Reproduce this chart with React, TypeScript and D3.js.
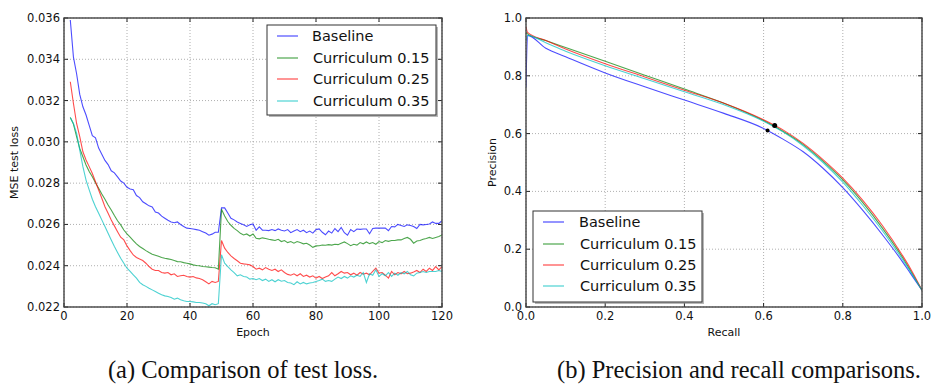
import React from "react";
import * as d3 from "d3";

// ---------- Data: left chart (MSE test loss per epoch) ----------
const epochs: number[] = d3.range(2, 121);

const baselineLoss: number[] = [
  0.0359, 0.0341, 0.0333, 0.0323, 0.0317, 0.0313, 0.0308, 0.0303, 0.0302, 0.0297,
  0.0294, 0.0291, 0.0289, 0.0286, 0.0285, 0.0283, 0.0281, 0.0280, 0.0278, 0.02772,
  0.02768, 0.0274, 0.0273, 0.0271, 0.0270, 0.0269, 0.02685, 0.0266, 0.02655, 0.0264,
  0.0263, 0.0262, 0.02612, 0.02608, 0.02612, 0.0260, 0.0259, 0.02582, 0.0258, 0.02578,
  0.02575, 0.02572, 0.02565, 0.02558, 0.02548, 0.02553, 0.02562, 0.02562, 0.0268, 0.0268,
  0.02655, 0.0263, 0.02622, 0.02612, 0.02605, 0.02598, 0.0259, 0.02598, 0.02602, 0.02572,
  0.02588, 0.02572, 0.02572, 0.0257, 0.02575, 0.0257, 0.02578, 0.02572, 0.02568, 0.02575,
  0.0256, 0.02568, 0.02575, 0.02565, 0.02572, 0.0256, 0.02568, 0.02558, 0.02575, 0.02578,
  0.02562, 0.0255, 0.02568, 0.02558, 0.0258, 0.02565, 0.02585, 0.0256, 0.02548, 0.02575,
  0.02565, 0.02578, 0.02576, 0.02578, 0.02578, 0.02555, 0.0258, 0.02582, 0.02582, 0.02583,
  0.02582, 0.0257, 0.0259, 0.02588, 0.026, 0.02595, 0.0259, 0.02598, 0.02595, 0.0259,
  0.0258, 0.026, 0.02598, 0.026, 0.02602, 0.02612, 0.02605, 0.02605, 0.02618,
];

const cur15Loss: number[] = [
  0.03118, 0.03086, 0.03025, 0.02968, 0.02928, 0.02888, 0.02856, 0.02831, 0.02802, 0.02775,
  0.02747, 0.02722, 0.02694, 0.0267, 0.02643, 0.02618, 0.02598, 0.02573, 0.02554, 0.02538,
  0.02522, 0.02506, 0.02493, 0.02483, 0.02473, 0.02464, 0.02456, 0.02451, 0.02446, 0.0244,
  0.02436, 0.02433, 0.0243, 0.02425, 0.0242, 0.02419, 0.02415, 0.02412, 0.02409, 0.02404,
  0.02401, 0.024, 0.02396, 0.02395, 0.02393, 0.02391, 0.0239, 0.02383, 0.02673, 0.02641,
  0.02614, 0.02596, 0.02581, 0.0257, 0.02557, 0.02549, 0.02554, 0.02544, 0.02554, 0.02533,
  0.0253, 0.02535, 0.02532, 0.02528, 0.02525, 0.02522, 0.02528, 0.02517, 0.02522, 0.02512,
  0.02517, 0.02509, 0.02517, 0.02512, 0.02506, 0.02509, 0.025, 0.02489, 0.02496, 0.02497,
  0.025, 0.02499, 0.02502, 0.025, 0.02504, 0.02502, 0.02509, 0.02515, 0.02507, 0.02497,
  0.02504, 0.025, 0.02512, 0.02506, 0.02515, 0.02507, 0.02512, 0.02504, 0.02517, 0.02512,
  0.02522, 0.02518, 0.02522, 0.02522, 0.02525, 0.02525, 0.02532, 0.02537, 0.02528, 0.02509,
  0.0252, 0.02522, 0.02528, 0.02532, 0.02537, 0.02532, 0.02537, 0.02541, 0.02549,
];

const cur25Loss: number[] = [
  0.03291, 0.03186, 0.03089, 0.03025, 0.02952, 0.02912, 0.0288, 0.02847, 0.02807, 0.02767,
  0.02727, 0.02686, 0.02654, 0.02622, 0.02593, 0.02565, 0.02538, 0.02525, 0.02496, 0.02473,
  0.02452, 0.0244, 0.02432, 0.02425, 0.02412, 0.02396, 0.02383, 0.02377, 0.02377, 0.02367,
  0.02364, 0.02367, 0.02356, 0.02361, 0.02348, 0.02351, 0.02354, 0.02348, 0.02345, 0.02348,
  0.02341, 0.02338, 0.02332, 0.02322, 0.02312, 0.02324, 0.02319, 0.02324, 0.02522, 0.02485,
  0.02464, 0.02448, 0.02435, 0.02424, 0.02412, 0.02409, 0.02407, 0.02404, 0.02396, 0.02383,
  0.02388, 0.0238, 0.02391, 0.02383, 0.02377, 0.02383, 0.02372, 0.0238, 0.02367, 0.02358,
  0.02354, 0.02361, 0.02351, 0.02361, 0.02348, 0.02354, 0.02345, 0.02351, 0.0234, 0.02348,
  0.02338, 0.02345, 0.02351, 0.02367, 0.02351, 0.02361, 0.02372, 0.02364, 0.02367, 0.02356,
  0.02364, 0.02354, 0.02367, 0.02359, 0.02364, 0.02356, 0.02372, 0.02388, 0.02364, 0.02367,
  0.02354, 0.0234, 0.02372, 0.02356, 0.02367, 0.02361, 0.02372, 0.02361, 0.02364, 0.0237,
  0.02377, 0.02367, 0.02383, 0.02372, 0.02388, 0.02377, 0.02396, 0.0238, 0.02396,
];

const cur35Loss: number[] = [
  0.03118, 0.03089, 0.03041, 0.0296, 0.0288, 0.02815, 0.02767, 0.02722, 0.02686, 0.02654,
  0.02622, 0.0259, 0.02557, 0.02525, 0.02493, 0.02464, 0.02436, 0.02412, 0.02388, 0.02372,
  0.02356, 0.0234, 0.02319, 0.02308, 0.023, 0.02291, 0.02283, 0.02275, 0.02267, 0.02259,
  0.02254, 0.02251, 0.02246, 0.02238, 0.02243, 0.02235, 0.0223, 0.02227, 0.02227, 0.02225,
  0.02222, 0.02222, 0.02219, 0.02216, 0.02206, 0.02216, 0.02211, 0.02216, 0.02453, 0.02412,
  0.02396, 0.0238, 0.02367, 0.02351, 0.02356, 0.02348, 0.02345, 0.02335, 0.02338, 0.02332,
  0.02338, 0.02328, 0.02335, 0.02324, 0.02332, 0.02322, 0.02332, 0.02325, 0.02328, 0.02319,
  0.02316, 0.02308, 0.02322, 0.02312, 0.02319, 0.02312, 0.02316, 0.02319, 0.02324, 0.02328,
  0.02335, 0.02324, 0.02328, 0.02324, 0.02335, 0.02345, 0.02338, 0.02348, 0.0234, 0.02351,
  0.02345, 0.02354, 0.02348, 0.02367, 0.02319, 0.02361, 0.02354, 0.0238, 0.02348, 0.02361,
  0.02351, 0.02367, 0.02348, 0.02364, 0.02354, 0.02367, 0.02361, 0.02372, 0.02356, 0.02351,
  0.02364, 0.02367, 0.02372, 0.02367, 0.02372, 0.02372, 0.02372, 0.02377, 0.02372,
];

const lossXTicks: number[] = [0, 20, 40, 60, 80, 100, 120];
const lossYTicks: number[] = [0.022, 0.024, 0.026, 0.028, 0.03, 0.032, 0.034, 0.036];

// ---------- Data: right chart (precision-recall) ----------
const prBaseline: [number, number][] = [
  [0.0, 0.76], [0.004, 0.94], [0.05, 0.895], [0.1, 0.866], [0.2, 0.81], [0.3, 0.762],
  [0.4, 0.716], [0.5, 0.67], [0.6, 0.618], [0.65, 0.58], [0.7, 0.537], [0.75, 0.48],
  [0.8, 0.413], [0.85, 0.335], [0.9, 0.25], [0.95, 0.158], [0.97, 0.118], [1.0, 0.058],
];
const prCur15: [number, number][] = [
  [0.0, 0.95], [0.004, 0.945], [0.05, 0.922], [0.1, 0.898], [0.2, 0.85], [0.3, 0.802],
  [0.4, 0.754], [0.5, 0.705], [0.6, 0.645], [0.65, 0.607], [0.7, 0.562], [0.75, 0.505],
  [0.8, 0.44], [0.85, 0.362], [0.9, 0.273], [0.95, 0.173], [0.97, 0.128], [1.0, 0.058],
];
const prCur25: [number, number][] = [
  [0.0, 0.97], [0.004, 0.95], [0.05, 0.922], [0.1, 0.893], [0.2, 0.842], [0.3, 0.796],
  [0.4, 0.75], [0.5, 0.705], [0.6, 0.648], [0.65, 0.612], [0.7, 0.566], [0.75, 0.51],
  [0.8, 0.446], [0.85, 0.37], [0.9, 0.282], [0.95, 0.18], [0.97, 0.135], [1.0, 0.058],
];
const prCur35: [number, number][] = [
  [0.0, 0.92], [0.004, 0.94], [0.05, 0.914], [0.1, 0.885], [0.2, 0.835], [0.3, 0.79],
  [0.4, 0.745], [0.5, 0.7], [0.6, 0.643], [0.65, 0.605], [0.7, 0.558], [0.75, 0.5],
  [0.8, 0.432], [0.85, 0.352], [0.9, 0.264], [0.95, 0.166], [0.97, 0.124], [1.0, 0.058],
];
const prDots: [number, number][] = [[0.61, 0.611], [0.628, 0.628]];

const prTicks: number[] = [0, 0.2, 0.4, 0.6, 0.8, 1.0];

const seriesNames: string[] = ["Baseline", "Curriculum 0.15", "Curriculum 0.25", "Curriculum 0.35"];
const seriesColors: string[] = ["#0000ff", "#008000", "#ff0000", "#00bfbf"];

const captions: string[] = ["(a) Comparison of test loss.", "(b) Precision and recall comparisons."];

const FONT = "'DejaVu Sans', sans-serif";
const SERIF = "'Liberation Serif', 'Times New Roman', serif";

type Box = { left: number; right: number; top: number; bottom: number };

function Frame({ box, xs, ys, xTicks, yTicks, xFmt, yFmt, xLabel, yLabel, yLabelX }: any) {
  const tickLen = 4;
  return (
    <g>
      {xTicks.map((t: number, i: number) => (
        <line key={"gx" + i} x1={xs(t)} x2={xs(t)} y1={box.top} y2={box.bottom}
          stroke="#9a9a9a" strokeWidth={0.8} strokeDasharray="1,2" />
      ))}
      {yTicks.map((t: number, i: number) => (
        <line key={"gy" + i} x1={box.left} x2={box.right} y1={ys(t)} y2={ys(t)}
          stroke="#9a9a9a" strokeWidth={0.8} strokeDasharray="1,2" />
      ))}
      {xTicks.map((t: number, i: number) => (
        <g key={"tx" + i}>
          <line x1={xs(t)} x2={xs(t)} y1={box.bottom} y2={box.bottom - tickLen} stroke="#222" strokeWidth={1} />
          <line x1={xs(t)} x2={xs(t)} y1={box.top} y2={box.top + tickLen} stroke="#222" strokeWidth={1} />
          <text x={xs(t)} y={box.bottom + 13} textAnchor="middle" fontFamily={FONT} fontSize={11.5} fill="#111">
            {xFmt(t)}
          </text>
        </g>
      ))}
      {yTicks.map((t: number, i: number) => (
        <g key={"ty" + i}>
          <line x1={box.left} x2={box.left + tickLen} y1={ys(t)} y2={ys(t)} stroke="#222" strokeWidth={1} />
          <line x1={box.right} x2={box.right - tickLen} y1={ys(t)} y2={ys(t)} stroke="#222" strokeWidth={1} />
          <text x={box.left - 4} y={ys(t) + 4} textAnchor="end" fontFamily={FONT} fontSize={11.5} fill="#111">
            {yFmt(t)}
          </text>
        </g>
      ))}
      <text x={(box.left + box.right) / 2} y={box.bottom + 29} textAnchor="middle" fontFamily={FONT} fontSize={11} fill="#111">
        {xLabel}
      </text>
      <text transform={`translate(${yLabelX},${(box.top + box.bottom) / 2}) rotate(-90)`} textAnchor="middle"
        fontFamily={FONT} fontSize={11} fill="#111">
        {yLabel}
      </text>
    </g>
  );
}

function Legend({ x, y, w, h, rows, lineX1, lineX2, textX }: any) {
  return (
    <g>
      <rect x={x + 2} y={y + 2} width={w} height={h} fill="#888" opacity={0.6} />
      <rect x={x} y={y} width={w} height={h} fill="#fff" stroke="#333" strokeWidth={1} />
      {seriesNames.map((n, i) => (
        <g key={n}>
          <line x1={lineX1} x2={lineX2} y1={rows[i]} y2={rows[i]} stroke={seriesColors[i]} strokeOpacity={0.7} strokeWidth={1.2} />
          <text x={textX + (i === 0 ? 0 : 1)} y={rows[i] + 5} fontFamily={FONT} fontSize={14.5} fill="#111">{n}</text>
        </g>
      ))}
    </g>
  );
}

export default function App() {
  const boxA: Box = { left: 64, right: 442, top: 18, bottom: 307 };
  const boxB: Box = { left: 526, right: 922, top: 18, bottom: 307 };

  const xA = d3.scaleLinear().domain([0, 120]).range([boxA.left, boxA.right]);
  const yA = d3.scaleLinear().domain([0.022, 0.036]).range([boxA.bottom, boxA.top]);
  const xB = d3.scaleLinear().domain([0, 1]).range([boxB.left, boxB.right]);
  const yB = d3.scaleLinear().domain([0, 1]).range([boxB.bottom, boxB.top]);

  const lossSeries = [baselineLoss, cur15Loss, cur25Loss, cur35Loss];
  const prSeries = [prBaseline, prCur15, prCur25, prCur35];

  const lineA = d3.line<number>().x((_, i) => xA(epochs[i])).y((d) => yA(d));
  const lineB = d3.line<[number, number]>().x((d) => xB(d[0])).y((d) => yB(d[1])).curve(d3.curveMonotoneX);

  return (
    <svg width={932} height={390} style={{ position: "absolute", left: 0, top: 0, background: "#fff" }}>
      <rect width={932} height={390} fill="#fff" />
      <defs>
        <clipPath id="clipA"><rect x={boxA.left} y={boxA.top} width={boxA.right - boxA.left} height={boxA.bottom - boxA.top} /></clipPath>
        <clipPath id="clipB"><rect x={boxB.left} y={boxB.top} width={boxB.right - boxB.left} height={boxB.bottom - boxB.top} /></clipPath>
      </defs>

      {/* Left chart */}
      <Frame box={boxA} xs={xA} ys={yA} xTicks={lossXTicks} yTicks={lossYTicks}
        xFmt={(t: number) => String(t)} yFmt={d3.format(".3f")} xLabel="Epoch" yLabel="MSE test loss" yLabelX={18} />
      <g clipPath="url(#clipA)">
        {lossSeries.map((s, i) => (
          <path key={i} d={lineA(s) || ""} fill="none" stroke={seriesColors[i]} strokeOpacity={0.7} strokeWidth={1.1} />
        ))}
      </g>
      <rect x={boxA.left} y={boxA.top} width={boxA.right - boxA.left} height={boxA.bottom - boxA.top}
        fill="none" stroke="#444" strokeWidth={1.4} />
      <Legend x={267} y={25} w={169} h={90} rows={[36, 58, 79, 101]} lineX1={277} lineX2={298} textX={312} />

      {/* Right chart */}
      <Frame box={boxB} xs={xB} ys={yB} xTicks={prTicks} yTicks={prTicks}
        xFmt={d3.format(".1f")} yFmt={d3.format(".1f")} xLabel="Recall" yLabel="Precision" yLabelX={496} />
      <g clipPath="url(#clipB)">
        {prSeries.map((s, i) => (
          <path key={i} d={lineB(s) || ""} fill="none" stroke={seriesColors[i]} strokeOpacity={0.7} strokeWidth={1.1} />
        ))}
        {prDots.map((d, i) => (
          <circle key={i} cx={xB(d[0])} cy={yB(d[1])} r={i === 0 ? 2 : 2.5} fill="#000" />
        ))}
      </g>
      <rect x={boxB.left} y={boxB.top} width={boxB.right - boxB.left} height={boxB.bottom - boxB.top}
        fill="none" stroke="#444" strokeWidth={1.4} />
      <Legend x={533} y={211} w={169} h={91} rows={[222, 244, 265, 286]} lineX1={543} lineX2={564} textX={579} />

      {/* Captions */}
      <text x={243} y={378} textAnchor="middle" fontFamily={SERIF} fontSize={24.5} fill="#111">{captions[0]}</text>
      <text x={739} y={378} textAnchor="middle" fontFamily={SERIF} fontSize={24.5} fill="#111">{captions[1]}</text>
    </svg>
  );
}
